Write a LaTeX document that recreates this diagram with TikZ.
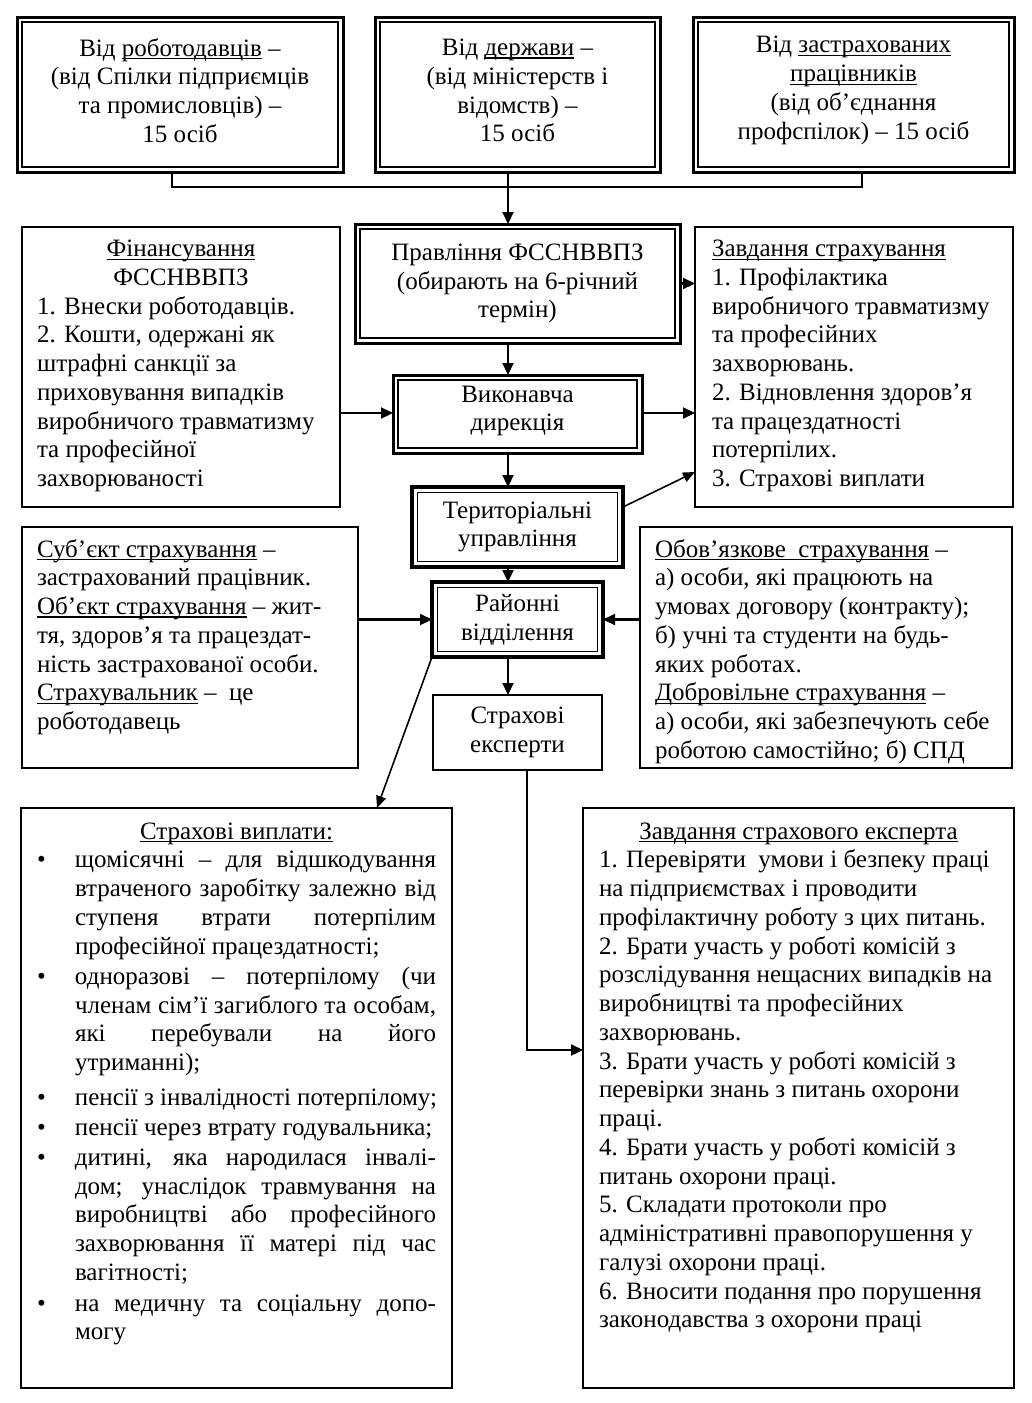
\documentclass[tikz,border=0pt]{standalone}
\usepackage{fontspec}
\setmainfont{Liberation Serif}
\usetikzlibrary{arrows.meta}
\newcommand\uu[1]{\setbox0=\hbox{#1}\rlap{\rule[-3pt]{\wd0}{1.1pt}}\box0\relax}
\newcommand\jl[1]{\makebox[361pt][s]{#1}}
\newcommand\bul{\llap{\makebox[38pt][l]{•}}}
\begin{document}
\begin{tikzpicture}[x=1pt,y=-1pt,
 every node/.style={font=\fontsize{25}{28.75}\selectfont, inner sep=0pt, outer sep=0pt},
 sbox/.style={draw, line width=2.2pt},
 dbox/.style={draw, line width=3pt},
 tbox/.style={draw, line width=3.8pt},
 arr/.style={line width=2.2pt, -{Triangle[length=12pt,width=11pt]}},
 darr/.style={line width=1.6pt, -{Triangle[length=12pt,width=10pt]}},
 ln/.style={line width=2.2pt},
 inner/.style={line width=1.5pt}]
\useasboundingbox (0,0) rectangle (1032,1403);

% boxes
\node[dbox, minimum width=326pt, minimum height=155pt] (b1) at (180,94.5) {};
\node[dbox, minimum width=285pt, minimum height=155pt] (b2) at (517.5,94.5) {};
\node[dbox, minimum width=321pt, minimum height=155pt] (b3) at (853.5,94.5) {};
\node[dbox, minimum width=325pt, minimum height=119pt] (pr) at (517.5,283.5) {};
\node[sbox, minimum width=318pt, minimum height=280pt] (fin) at (181,367) {};
\node[sbox, minimum width=318pt, minimum height=280pt] (zav) at (854,367) {};
\node[dbox, minimum width=249pt, minimum height=78pt] (vyk) at (517.5,414) {};
\node[tbox, minimum width=211pt, minimum height=80pt] (ter) at (517.5,527) {};
\node[tbox, minimum width=171pt, minimum height=75pt] (ray) at (517.5,619.5) {};
\node[sbox, minimum width=336pt, minimum height=241pt] (sub) at (190,647.5) {};
\node[sbox, minimum width=372pt, minimum height=241pt] (obov) at (826,647.5) {};
\node[sbox, minimum width=169pt, minimum height=75pt] (eksp) at (517.5,732.5) {};
\node[sbox, minimum width=431pt, minimum height=580pt] (vypl) at (236.5,1098) {};
\node[sbox, minimum width=431pt, minimum height=580pt] (zexp) at (798.5,1098) {};

\foreach \n in {b1,b2,b3,pr,vyk}
  \draw[inner] ([xshift=5pt,yshift=-5pt]\n.north west) rectangle ([xshift=-5pt,yshift=5pt]\n.south east);
\foreach \n in {ter,ray}
  \draw[inner] ([xshift=5.5pt,yshift=-5.5pt]\n.north west) rectangle ([xshift=-5.5pt,yshift=5.5pt]\n.south east);

% texts
\node[align=center, yshift=4pt] (b1t) at (b1) {Від \uu{роботодавців} –\\(від Спілки підприємців\\та промисловців) –\\15 осіб};
\node[align=center, yshift=4pt] (b2t) at (b2) {Від \uu{держави} –\\(від міністерств і\\відомств) –\\15 осіб};
\node[align=center, yshift=4pt] (b3t) at (b3) {Від \uu{застрахованих}\\\uu{працівників}\\(від об’єднання\\профспілок) – 15 осіб};
\node[align=center] (prt) at (pr) {Правління ФССНВВПЗ\\(обирають на 6-річний\\термін)};
\node[align=center, yshift=3pt] (vykt) at (vyk) {Виконавча\\дирекція};
\node[align=center] (tert) at (ter) {Територіальні\\управління};
\node[align=center] (rayt) at (ray) {Районні\\відділення};
\node[align=center] (ekspt) at (eksp) {Страхові\\експерти};

\node[align=left, anchor=west] (fint) at (37,366) {\makebox[288pt]{\uu{Фінансування}}\\
\makebox[288pt]{ФССНВВПЗ}\\
1. Внески роботодавців.\\
2. Кошти, одержані як\\
штрафні санкції за\\
приховування випадків\\
виробничого травматизму\\
та професійної\\
захворюваності};

\node[align=left, anchor=west] (zavt) at (712,366) {\uu{Завдання страхування}\\
1. Профілактика\\
виробничого травматизму\\
та професійних\\
захворювань.\\
2. Відновлення здоров’я\\
та працездатності\\
потерпілих.\\
3. Страхові виплати};

\node[align=left, anchor=west] (subt) at (37,637) {\uu{Суб’єкт страхування} –\\
застрахований працівник.\\
\uu{Об’єкт страхування} – жит-\\
тя, здоров’я та працездат-\\
ність застрахованої особи.\\
\uu{Страхувальник} –\ \ це\\
роботодавець};

\node[align=left, anchor=west] (obovt) at (655,651.5) {\uu{Обов’язкове\ \ страхування} –\\
а) особи, які працюють на\\
умовах договору (контракту);\\
б) учні та студенти на будь-\\
яких роботах.\\
\uu{Добровільне страхування} –\\
а) особи, які забезпечують себе\\
роботою самостійно; б) СПД};

\node[align=left, anchor=north west] (vyplt) at (75,819) {\strut\makebox[323pt]{\uu{Страхові виплати:}}\\
\bul\jl{щомісячні – для відшкодування}\\
\jl{втраченого заробітку залежно від}\\
\jl{ступеня втрати потерпілим}\\
професійної працездатності;\\[1.5pt]
\bul\jl{одноразові – потерпілому (чи}\\
\jl{членам сім’ї загиблого та особам,}\\
\jl{які перебували на його}\\
утриманні);\\[6pt]
\bul пенсії з інвалідності потерпілому;\\[1pt]
\bul пенсії через втрату годувальника;\\[1.5pt]
\bul\jl{дитині, яка народилася інвалі-}\\
\jl{дом; унаслідок травмування на}\\
\jl{виробництві або професійного}\\
\jl{захворювання її матері під час}\\
вагітності;\\[2pt]
\bul\jl{на медичну та соціальну допо-}\\
могу};

\node[align=left, anchor=north west] (zexpt) at (599,819) {\strut\makebox[399pt]{\uu{Завдання страхового експерта}}\\
1. Перевіряти\ \ умови і безпеку праці\\
на підприємствах і проводити\\
профілактичну роботу з цих питань.\\
2. Брати участь у роботі комісій з\\
розслідування нещасних випадків на\\
виробництві та професійних\\
захворювань.\\
3. Брати участь у роботі комісій з\\
перевірки знань з питань охорони\\
праці.\\
4. Брати участь у роботі комісій з\\
питань охорони праці.\\
5. Складати протоколи про\\
адміністративні правопорушення у\\
галузі охорони праці.\\
6. Вносити подання про порушення\\
законодавства з охорони праці};

% connectors
\coordinate (c1) at (172,187);
\coordinate (c3) at (862,187);
\coordinate (cm) at (508,187);
\draw[ln] (b1.south -| c1) -- (c1) -- (c3) -- (b3.south -| c3);
\draw[arr] (b2.south -| cm) -- (pr.north -| cm);
\draw[arr] (pr.east) -- (pr.east -| zav.west);
\draw[arr] (pr.south -| cm) -- (vyk.north -| cm);
\coordinate (r1) at (0,413);
\draw[arr] (fin.east |- r1) -- (vyk.west |- r1);
\draw[arr] (vyk.east |- r1) -- (zav.west |- r1);
\draw[arr] (vyk.south -| cm) -- (ter.north -| cm);
\coordinate (t1) at (623,507);
\coordinate (t2) at (695,472);
\draw[darr] (ter.east |- t1) -- (zav.west |- t2);
\draw[arr] (ter.south -| cm) -- (ray.north -| cm);
\draw[arr] (sub.east |- ray.west) -- (ray.west);
\draw[arr] (obov.west |- ray.east) -- (ray.east);
\draw[arr] (ray.south -| cm) -- (eksp.north -| cm);
\coordinate (d1) at (377,808);
\draw[darr] (ray.south west) -- (vypl.north -| d1);
\coordinate (e1) at (527,1050);
\draw[arr] (eksp.south -| e1) -- (e1) -- (zexp.west |- e1);
\end{tikzpicture}
\end{document}
